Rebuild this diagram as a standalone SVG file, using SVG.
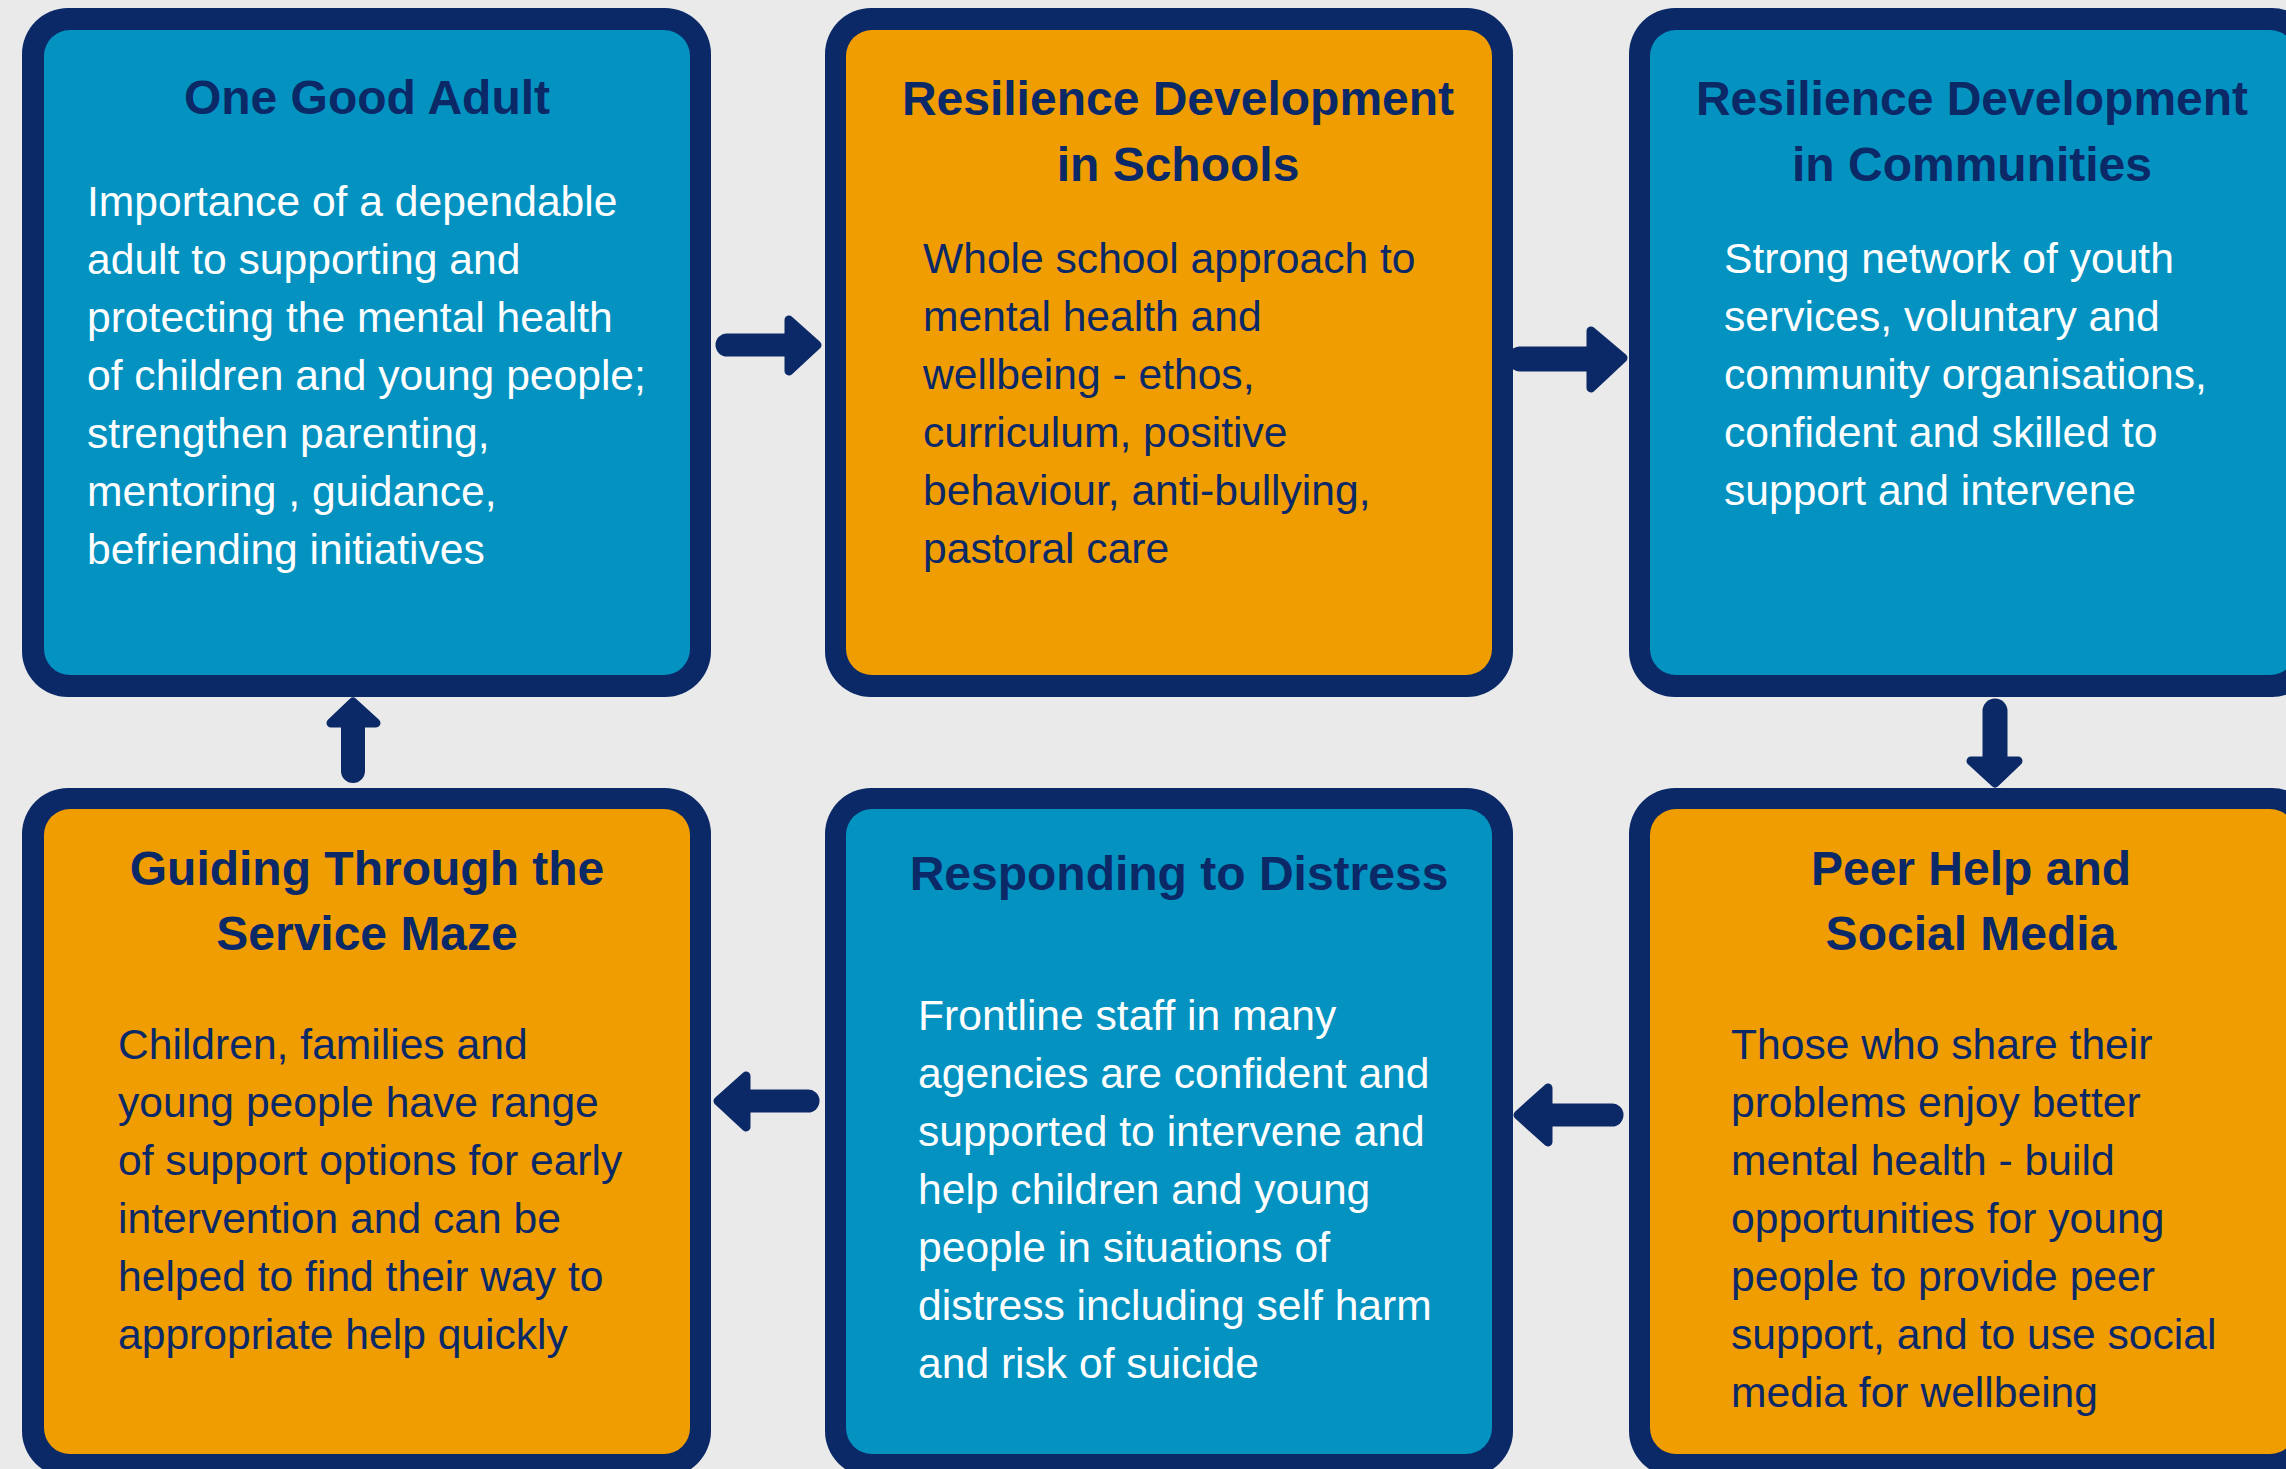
<svg xmlns="http://www.w3.org/2000/svg" width="2286" height="1469" viewBox="0 0 2286 1469">
<style>
.frame{fill:#0B2867}
.blue{fill:#0492C1}
.orange{fill:#EF9D00}
.title{font-family:"Liberation Sans",Arial,sans-serif;font-weight:bold;font-size:48px;fill:#0B2867;text-anchor:middle}
.body{font-family:"Liberation Sans",Arial,sans-serif;font-size:42.6px}
.w{fill:#FFFFFF}
.n{fill:#0B2867}
.shaft{stroke:#0B2867;stroke-linecap:round;fill:none}
.head{fill:#0B2867;stroke:#0B2867;stroke-width:9;stroke-linejoin:round}
</style>
<rect x="0" y="0" width="2286" height="1469" fill="#EAEAEA"/>

<g id="connectors">
  <g id="a1"><line class="shaft" x1="727" y1="345" x2="792" y2="345" stroke-width="23"/><polygon class="head" points="789,320 817,345 789,371"/></g>
  <g id="a2"><line class="shaft" x1="1520" y1="359" x2="1595" y2="359" stroke-width="25"/><polygon class="head" points="1591,331 1623,358 1591,388"/></g>
  <g id="a3"><line class="shaft" x1="1995" y1="711" x2="1995" y2="765" stroke-width="25"/><polygon class="head" points="1971,761 2018,761 1995,783"/></g>
  <g id="a4"><line class="shaft" x1="1612" y1="1115" x2="1545" y2="1115" stroke-width="23"/><polygon class="head" points="1548,1088 1518,1115 1548,1142"/></g>
  <g id="a5"><line class="shaft" x1="808" y1="1101" x2="745" y2="1101" stroke-width="23"/><polygon class="head" points="746,1076 718,1101 746,1127"/></g>
  <g id="a6"><line class="shaft" x1="353" y1="771" x2="353" y2="720" stroke-width="24"/><polygon class="head" points="331,723 353,702 376,723"/></g>
</g>

<g id="node1">
  <rect class="frame" x="22" y="8" width="689" height="689" rx="46"/>
  <rect class="blue" x="44" y="30" width="646" height="645" rx="26"/>
  <text class="title" x="367" y="114">One Good Adult</text>
  <text class="body w" x="87" y="215.5">
    <tspan x="87">Importance of a dependable</tspan>
    <tspan x="87" dy="58">adult to supporting and</tspan>
    <tspan x="87" dy="58">protecting the mental health</tspan>
    <tspan x="87" dy="58">of children and young people;</tspan>
    <tspan x="87" dy="58">strengthen parenting,</tspan>
    <tspan x="87" dy="58">mentoring , guidance,</tspan>
    <tspan x="87" dy="58">befriending initiatives</tspan>
  </text>
</g>

<g id="node2">
  <rect class="frame" x="825" y="8" width="688" height="689" rx="46"/>
  <rect class="orange" x="846" y="30" width="646" height="645" rx="26"/>
  <text class="title" x="1178" y="115">Resilience Development</text>
  <text class="title" x="1178" y="181">in Schools</text>
  <text class="body n" x="923" y="272.5">
    <tspan x="923">Whole school approach to</tspan>
    <tspan x="923" dy="58">mental health and</tspan>
    <tspan x="923" dy="58">wellbeing - ethos,</tspan>
    <tspan x="923" dy="58">curriculum, positive</tspan>
    <tspan x="923" dy="58">behaviour, anti-bullying,</tspan>
    <tspan x="923" dy="58">pastoral care</tspan>
  </text>
</g>

<g id="node3">
  <rect class="frame" x="1629" y="8" width="689" height="689" rx="46"/>
  <rect class="blue" x="1650" y="30" width="646" height="645" rx="26"/>
  <text class="title" x="1972" y="115">Resilience Development</text>
  <text class="title" x="1972" y="181">in Communities</text>
  <text class="body w" x="1724" y="272.5">
    <tspan x="1724">Strong network of youth</tspan>
    <tspan x="1724" dy="58">services, voluntary and</tspan>
    <tspan x="1724" dy="58">community organisations,</tspan>
    <tspan x="1724" dy="58">confident and skilled to</tspan>
    <tspan x="1724" dy="58">support and intervene</tspan>
  </text>
</g>

<g id="node4">
  <rect class="frame" x="22" y="788" width="689" height="689" rx="46"/>
  <rect class="orange" x="44" y="809" width="646" height="645" rx="26"/>
  <text class="title" x="367" y="885">Guiding Through the</text>
  <text class="title" x="367" y="950">Service Maze</text>
  <text class="body n" x="118" y="1058.5">
    <tspan x="118">Children, families and</tspan>
    <tspan x="118" dy="58">young people have range</tspan>
    <tspan x="118" dy="58">of support options for early</tspan>
    <tspan x="118" dy="58">intervention and can be</tspan>
    <tspan x="118" dy="58">helped to find their way to</tspan>
    <tspan x="118" dy="58">appropriate help quickly</tspan>
  </text>
</g>

<g id="node5">
  <rect class="frame" x="825" y="788" width="688" height="689" rx="46"/>
  <rect class="blue" x="846" y="809" width="646" height="645" rx="26"/>
  <text class="title" x="1179" y="890">Responding to Distress</text>
  <text class="body w" x="918" y="1029.5">
    <tspan x="918">Frontline staff in many</tspan>
    <tspan x="918" dy="58">agencies are confident and</tspan>
    <tspan x="918" dy="58">supported to intervene and</tspan>
    <tspan x="918" dy="58">help children and young</tspan>
    <tspan x="918" dy="58">people in situations of</tspan>
    <tspan x="918" dy="58">distress including self harm</tspan>
    <tspan x="918" dy="58">and risk of suicide</tspan>
  </text>
</g>

<g id="node6">
  <rect class="frame" x="1629" y="788" width="689" height="689" rx="46"/>
  <rect class="orange" x="1650" y="809" width="646" height="645" rx="26"/>
  <text class="title" x="1971" y="885">Peer Help and</text>
  <text class="title" x="1971" y="950">Social Media</text>
  <text class="body n" x="1731" y="1058.5">
    <tspan x="1731">Those who share their</tspan>
    <tspan x="1731" dy="58">problems enjoy better</tspan>
    <tspan x="1731" dy="58">mental health - build</tspan>
    <tspan x="1731" dy="58">opportunities for young</tspan>
    <tspan x="1731" dy="58">people to provide peer</tspan>
    <tspan x="1731" dy="58">support, and to use social</tspan>
    <tspan x="1731" dy="58">media for wellbeing</tspan>
  </text>
</g>
</svg>
